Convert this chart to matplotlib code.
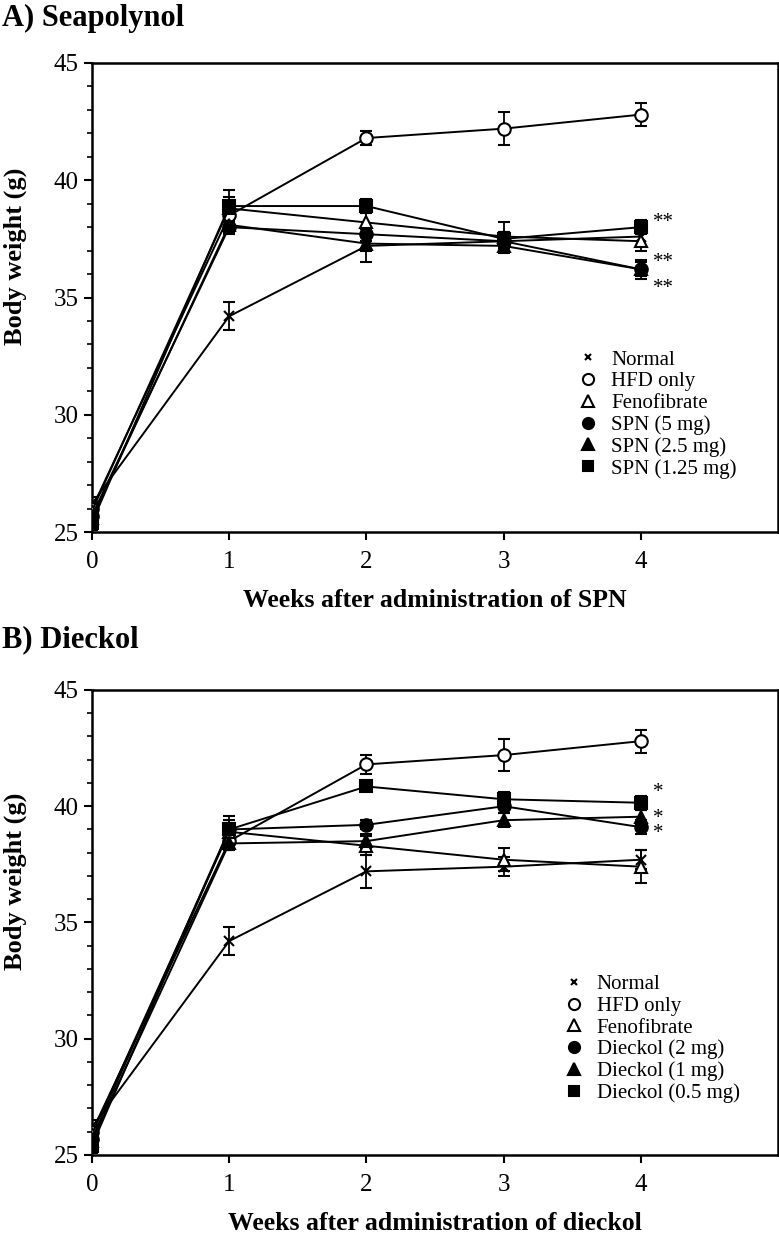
import matplotlib
matplotlib.use("Agg")
import matplotlib.pyplot as plt
from matplotlib.lines import Line2D

weeks = [0, 1, 2, 3, 4]

# Panel A: Seapolynol (SPN)
a_labels = ["Normal", "HFD only", "Fenofibrate", "SPN (5 mg)", "SPN (2.5 mg)", "SPN (1.25 mg)"]
a_normal = [26.2, 34.2, 37.2, 37.4, 37.6]
a_hfd = [26.0, 38.5, 41.8, 42.2, 42.8]
a_feno = [25.9, 38.8, 38.2, 37.6, 37.4]
a_spn5 = [25.7, 38.0, 37.7, 37.4, 36.2]
a_spn25 = [25.6, 38.1, 37.3, 37.2, 36.2]
a_spn125 = [25.4, 38.9, 38.9, 37.5, 38.0]
a_normal_err = [0.3, 0.6, 0.7, 0.4, 0.4]
a_hfd_err = [0.3, 0.4, 0.3, 0.7, 0.5]
a_feno_err = [0.3, 0.5, 0.4, 0.6, 0.4]
a_spn5_err = [0.3, 0.3, 0.3, 0.3, 0.4]
a_spn25_err = [0.3, 0.3, 0.3, 0.3, 0.3]
a_spn125_err = [0.3, 0.7, 0.3, 0.3, 0.3]
a_stars = ["**", "**", "**"]
a_star_y = [38.2, 36.5, 35.4]

# Panel B: Dieckol
b_labels = ["Normal", "HFD only", "Fenofibrate", "Dieckol (2 mg)", "Dieckol (1 mg)", "Dieckol (0.5 mg)"]
b_normal = [26.2, 34.2, 37.2, 37.4, 37.7]
b_hfd = [26.0, 38.5, 41.8, 42.2, 42.8]
b_feno = [25.9, 38.9, 38.3, 37.7, 37.4]
b_d2 = [25.7, 39.0, 39.2, 40.0, 39.1]
b_d1 = [25.6, 38.4, 38.5, 39.4, 39.55]
b_d05 = [25.4, 39.0, 40.85, 40.3, 40.15]
b_normal_err = [0.3, 0.6, 0.7, 0.4, 0.4]
b_hfd_err = [0.3, 0.4, 0.4, 0.7, 0.5]
b_feno_err = [0.3, 0.5, 0.4, 0.5, 0.7]
b_d2_err = [0.3, 0.3, 0.2, 0.3, 0.3]
b_d1_err = [0.3, 0.3, 0.3, 0.3, 0.3]
b_d05_err = [0.3, 0.6, 0.2, 0.3, 0.3]
# the two lower stars sit close together, so they share one two-line text
b_stars = ["*", "*\n*"]
b_star_y = [40.6, 39.15]

styles = [
    dict(marker="x", mfc="black", ms=7, mew=1.5),
    dict(marker="o", mfc="white", ms=9, mew=1.5),
    dict(marker="^", mfc="white", ms=9, mew=1.5),
    dict(marker="o", mfc="black", ms=9, mew=1.5),
    dict(marker="^", mfc="black", ms=9, mew=1.5),
    dict(marker="s", mfc="black", ms=8, mew=1.5),
]

plt.rcParams["font.family"] = ["Liberation Serif", "DejaVu Serif"]

fig = plt.figure(figsize=(7.79, 12.35), dpi=100)
axA = fig.add_axes([0.118, 0.5692, 0.881, 0.3798])
axB = fig.add_axes([0.118, 0.0648, 0.881, 0.3765])


def draw(ax, series, errs, labels, stars, star_y, xlabel, legend_anchor):
    for y, e, st in zip(series, errs, styles):
        ax.errorbar(weeks, y, yerr=e, color="black", lw=1.4, capsize=4, elinewidth=1.3,
                    capthick=1.3, mec="black", zorder=3, **st)
    for s, sy in zip(stars, star_y):
        ax.text(4.09, sy, s, fontsize=15, ha="left", va="center", linespacing=0.75)
    ax.set_xlim(0, 5); ax.set_ylim(25, 45)
    ax.set_xticks(weeks); ax.set_yticks([25, 30, 35, 40, 45])
    ax.set_yticks(range(25, 46), minor=True)
    ax.tick_params(axis="both", labelsize=18, width=1.5, length=6, direction="out")
    ax.tick_params(axis="x", pad=8)
    ax.tick_params(axis="y", which="minor", width=1.2, length=3.5)
    for sp in ax.spines.values():
        sp.set_linewidth(1.8)
    ax.set_xlabel(xlabel, fontsize=18.5, fontweight="bold", labelpad=11)
    ax.set_ylabel("Body weight (g)", fontsize=19, fontweight="bold")
    ax.yaxis.set_label_coords(-0.094, 0.588)
    handles = [Line2D([], [], ls="none", color="black", mec="black",
                      **{**st, "ms": st["ms"] - 1 if st["marker"] != "x" else 5}) for st in styles]
    ax.legend(handles, labels, loc="upper left", bbox_to_anchor=legend_anchor, frameon=False,
              fontsize=15, handlelength=1.0, handletextpad=0.6, labelspacing=0.1, borderpad=0)


draw(axA, [a_normal, a_hfd, a_feno, a_spn5, a_spn25, a_spn125],
     [a_normal_err, a_hfd_err, a_feno_err, a_spn5_err, a_spn25_err, a_spn125_err],
     a_labels, a_stars, a_star_y, "Weeks after administration of SPN", (0.693, 0.41))
draw(axB, [b_normal, b_hfd, b_feno, b_d2, b_d1, b_d05],
     [b_normal_err, b_hfd_err, b_feno_err, b_d2_err, b_d1_err, b_d05_err],
     b_labels, b_stars, b_star_y, "Weeks after administration of dieckol", (0.672, 0.41))

fig.text(0.003, 0.985, "A) Seapolynol", fontsize=22, fontweight="bold", va="center")
fig.text(0.003, 0.482, "B) Dieckol", fontsize=22, fontweight="bold", va="center")

fig.savefig("out.png", dpi=100)
